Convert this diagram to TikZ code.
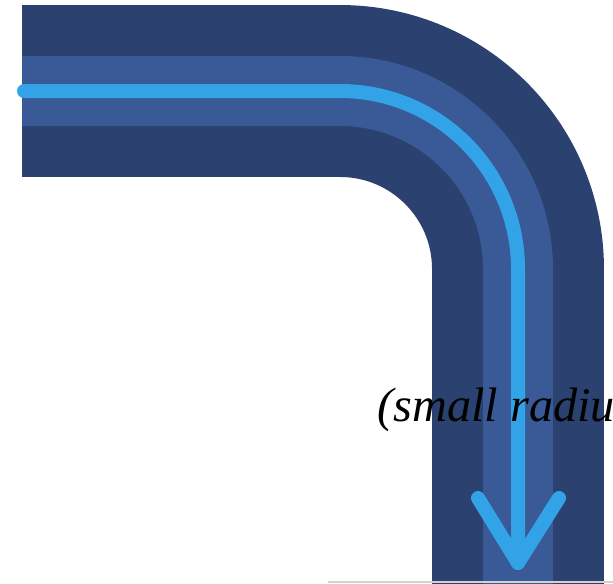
\documentclass[tikz,border=0pt]{standalone}
\usepackage{fontspec}
\setmainfont{Liberation Serif}
\definecolor{bandnavy}{HTML}{2B4170}
\definecolor{bandmid}{HTML}{395A96}
\definecolor{flowblue}{HTML}{33A3E8}
\tikzset{
  outerband/.style={draw=bandnavy, line width=3.44cm},
  innerband/.style={draw=bandmid, line width=1.4cm},
  flowline/.style={draw=flowblue, line width=0.28cm, line cap=round, line join=round},
  radlabel/.style={font=\fontsize{27.5}{32}\selectfont\itshape, inner sep=0pt}
}

\begin{document}
\begin{tikzpicture}[x=0.02cm, y=-0.02cm]
  \useasboundingbox (0,0) rectangle (613,583);
  \clip (0,0) rectangle (613,583);
  \fill[white] (0,0) rectangle (613,583);

  % bend: straight run, quarter turn about (340,269), straight drop
  \coordinate (bendin) at (340,91);
  \draw[outerband] (22,91) -- (bendin) arc[start angle=-90, end angle=0, radius=178] -- (518,600);
  \draw[innerband] (22,91) -- (bendin) arc[start angle=-90, end angle=0, radius=178] -- (518,600);

  % flow direction
  \coordinate (tip) at (518,563);
  \coordinate (wingL) at (478,498);
  \coordinate (wingR) at (559,498);
  \draw[flowline] (24,91) -- (bendin) arc[start angle=-90, end angle=0, radius=178] -- (tip);
  \draw[flowline] (wingL) -- (tip) -- (wingR);

  \draw[gray!35, line width=0.03cm] (328,582) -- (613,582);

  \node[radlabel, anchor=base west] (radius) at (377,421) {(small radius)};
\end{tikzpicture}
\end{document}
